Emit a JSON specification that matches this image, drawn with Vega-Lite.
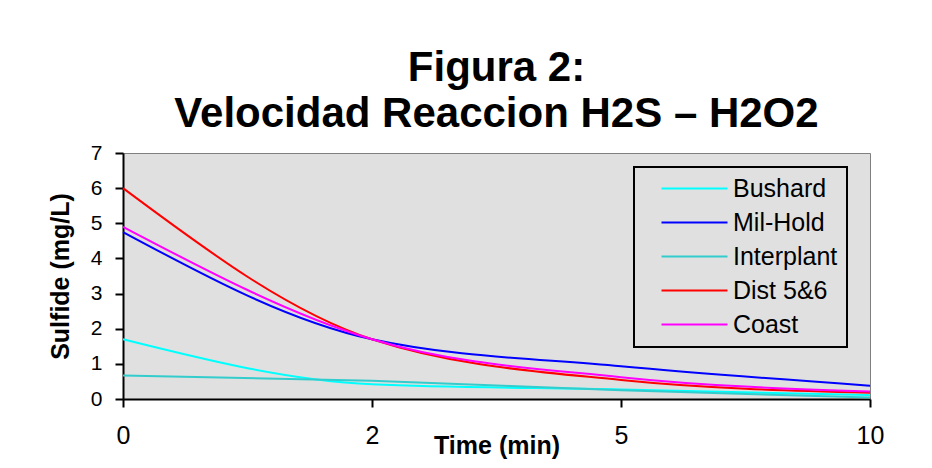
{
  "$schema": "https://vega.github.io/schema/vega-lite/v6.json",
  "width": 747,
  "height": 246,
  "autosize": {"type": "none"},
  "padding": {"left": 123, "top": 153, "right": 62, "bottom": 69},
  "background": "white",
  "title": {
    "text": ["Figura 2:", "Velocidad Reaccion H2S – H2O2"],
    "font": "Liberation Sans",
    "fontSize": 42,
    "fontWeight": "bold",
    "color": "black",
    "anchor": "middle",
    "frame": "group",
    "lineHeight": 46,
    "baseline": "alphabetic",
    "offset": 25,
    "dy": 52
  },
  "data": {
    "values": [
      {"time": 0, "series": "Bushard", "sulfide": 1.7},
      {"time": 2, "series": "Bushard", "sulfide": 0.42},
      {"time": 5, "series": "Bushard", "sulfide": 0.27},
      {"time": 10, "series": "Bushard", "sulfide": 0.11},
      {"time": 0, "series": "Mil-Hold", "sulfide": 4.75},
      {"time": 2, "series": "Mil-Hold", "sulfide": 1.7},
      {"time": 5, "series": "Mil-Hold", "sulfide": 0.93},
      {"time": 10, "series": "Mil-Hold", "sulfide": 0.38},
      {"time": 0, "series": "Interplant", "sulfide": 0.67},
      {"time": 2, "series": "Interplant", "sulfide": 0.52},
      {"time": 5, "series": "Interplant", "sulfide": 0.25},
      {"time": 10, "series": "Interplant", "sulfide": 0.04},
      {"time": 0, "series": "Dist 5&6", "sulfide": 6.0},
      {"time": 2, "series": "Dist 5&6", "sulfide": 1.7},
      {"time": 5, "series": "Dist 5&6", "sulfide": 0.54},
      {"time": 10, "series": "Dist 5&6", "sulfide": 0.18},
      {"time": 0, "series": "Coast", "sulfide": 4.9},
      {"time": 2, "series": "Coast", "sulfide": 1.7},
      {"time": 5, "series": "Coast", "sulfide": 0.62},
      {"time": 10, "series": "Coast", "sulfide": 0.21}
    ]
  },
  "mark": {"type": "line", "interpolate": "monotone", "strokeWidth": 2},
  "encoding": {
    "x": {
      "field": "time",
      "type": "ordinal",
      "scale": {"type": "point", "padding": 0},
      "axis": {
        "title": "Time (min)",
        "labelAngle": 0,
        "labelFont": "Liberation Sans",
        "labelFontSize": 25,
        "labelColor": "black",
        "labelPadding": 16,
        "titleFont": "Liberation Sans",
        "titleFontSize": 25,
        "titleFontWeight": "bold",
        "titleColor": "black",
        "titleY": 54,
        "titleBaseline": "alphabetic",
        "domainColor": "black",
        "domainWidth": 2,
        "tickColor": "black",
        "tickWidth": 2,
        "tickSize": 8,
        "grid": false
      }
    },
    "y": {
      "field": "sulfide",
      "type": "quantitative",
      "scale": {"domain": [0, 7], "nice": false},
      "axis": {
        "title": "Sulfide (mg/L)",
        "values": [0, 1, 2, 3, 4, 5, 6, 7],
        "labelFont": "Liberation Sans",
        "labelFontSize": 21,
        "labelColor": "black",
        "labelPadding": 13,
        "titleFont": "Liberation Sans",
        "titleFontSize": 25,
        "titleFontWeight": "bold",
        "titleColor": "black",
        "titleAngle": 270,
        "titleX": -63,
        "titleY": 123,
        "titleAlign": "center",
        "titleBaseline": "middle",
        "domainColor": "black",
        "domainWidth": 2,
        "tickColor": "black",
        "tickWidth": 2,
        "tickSize": 8,
        "grid": false
      }
    },
    "color": {
      "field": "series",
      "type": "nominal",
      "scale": {
        "domain": ["Bushard", "Mil-Hold", "Interplant", "Dist 5&6", "Coast"],
        "range": ["#00FFFF", "#0000FF", "#33CCCC", "#FF0000", "#FF00FF"]
      },
      "legend": {
        "title": null,
        "orient": "none",
        "legendX": 511,
        "legendY": 14,
        "padding": 9,
        "strokeColor": "black",
        "symbolType": "M-3,0H3",
        "symbolSize": 484,
        "symbolOffset": 39,
        "symbolStrokeWidth": 2,
        "labelFont": "Liberation Sans",
        "labelFontSize": 25,
        "labelColor": "black",
        "labelOffset": 26,
        "rowPadding": 8
      }
    }
  },
  "config": {
    "view": {"fill": "#E0E0E0", "stroke": "#808080", "strokeWidth": 1},
    "legend": {"strokeWidth": 2}
  }
}
